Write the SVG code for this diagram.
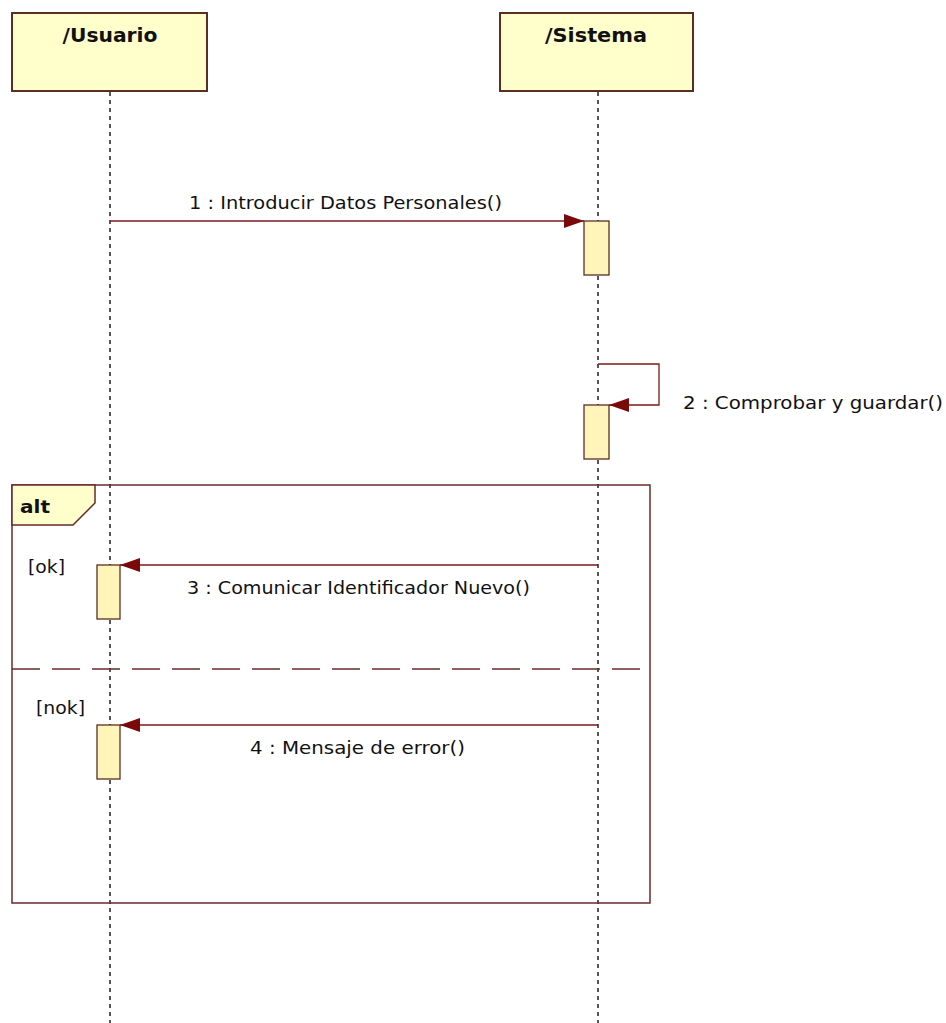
<svg xmlns="http://www.w3.org/2000/svg" width="946" height="1023" viewBox="0 0 946 1023">
<style>
.head{fill:#ffffcc;stroke:#5a2e22;stroke-width:2}
.act{fill:#fff5b8;stroke:#5a2e22;stroke-width:1.3}
.life{stroke:#000;stroke-width:1.3;stroke-dasharray:4 4;fill:none}
.msg{stroke:#7a1a1a;stroke-width:1.3;fill:none}
.frame{stroke:#6b2a2a;stroke-width:1.5;fill:none}
.title{font-family:"DejaVu Sans",Verdana,sans-serif;font-weight:bold;font-size:19px;fill:#111;text-anchor:middle}
.lbl{font-family:"DejaVu Sans",Verdana,sans-serif;font-size:17px;fill:#111}
</style>
<defs>
<marker id="ah" viewBox="0 0 20 14" refX="20" refY="7" markerWidth="20" markerHeight="14" markerUnits="userSpaceOnUse" orient="auto">
<path d="M0,0 L20,7 L0,14 Z" fill="#7a0a0a"/>
</marker>
</defs>
<rect width="946" height="1023" fill="#fff"/>
<g id="lifelines">
<line class="life" x1="110" y1="92" x2="110" y2="1023"/>
<line class="life" x1="598" y1="92" x2="598" y2="1023"/>
</g>
<g id="usuario">
<rect class="head" x="12" y="13" width="195" height="78"/>
<text class="title" x="110" y="42" textLength="95" lengthAdjust="spacingAndGlyphs">/Usuario</text>
</g>
<g id="sistema">
<rect class="head" x="500" y="13" width="193" height="78"/>
<text class="title" x="596" y="42" textLength="102" lengthAdjust="spacingAndGlyphs">/Sistema</text>
</g>
<g id="alt-frame">
<rect class="frame" x="12" y="485" width="638" height="418"/>
<path d="M12,485 L95,485 L95,503 L73,525 L12,525 Z" fill="#ffffcc" stroke="#6b2a2a" stroke-width="1.5"/>
<text x="20" y="513" font-family="DejaVu Sans,Verdana,sans-serif" font-weight="bold" font-size="17" fill="#111" textLength="30" lengthAdjust="spacingAndGlyphs">alt</text>
<line x1="12" y1="669" x2="650" y2="669" stroke="#6b2a2a" stroke-width="1.5" stroke-dasharray="28 12"/>
<text class="lbl" x="28" y="573" textLength="37" lengthAdjust="spacingAndGlyphs">[ok]</text>
<text class="lbl" x="36" y="714" textLength="49" lengthAdjust="spacingAndGlyphs">[nok]</text>
</g>
<g id="activations">
<rect class="act" x="584" y="221" width="25" height="54"/>
<rect class="act" x="584" y="405" width="25" height="54"/>
<rect class="act" x="97" y="565" width="23" height="54"/>
<rect class="act" x="97" y="725" width="23" height="54"/>
</g>
<g id="connectors">
<line class="msg" x1="110" y1="221" x2="584" y2="221" marker-end="url(#ah)"/>
<polyline class="msg" points="598,364 659,364 659,405 609,405" marker-end="url(#ah)"/>
<line class="msg" x1="598" y1="565" x2="120" y2="565" marker-end="url(#ah)"/>
<line class="msg" x1="598" y1="725" x2="120" y2="725" marker-end="url(#ah)"/>
</g>
<g id="labels">
<text class="lbl" x="189" y="209" textLength="313" lengthAdjust="spacingAndGlyphs">1 : Introducir Datos Personales()</text>
<text class="lbl" x="683" y="409" textLength="260" lengthAdjust="spacingAndGlyphs">2 : Comprobar y guardar()</text>
<text class="lbl" x="187" y="594" textLength="343" lengthAdjust="spacingAndGlyphs">3 : Comunicar Identificador Nuevo()</text>
<text class="lbl" x="250" y="754" textLength="215" lengthAdjust="spacingAndGlyphs">4 : Mensaje de error()</text>
</g>
</svg>
